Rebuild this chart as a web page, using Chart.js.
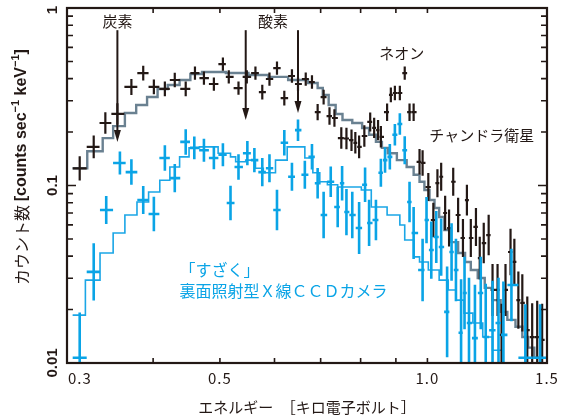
<!DOCTYPE html>
<html><head><meta charset="utf-8">
<script src="https://cdn.jsdelivr.net/npm/chart.js@4/dist/chart.umd.min.js"></script>
<style>html,body{margin:0;padding:0;background:#fff}canvas{display:block}</style>
</head><body>
<canvas id="c" width="564" height="418"></canvas>
<script>
// ---------- DATA ----------
// Chandra spectrum: energy [keV], rate [counts/s/keV], 1-sigma multiplicative error
const chandraE = [0.313,0.328,0.341,0.355,0.372,0.387,0.401,0.416,0.430,0.446,
  0.460,0.474,0.490,0.505,0.515,0.532,0.547,0.563,0.576,0.590,
  0.605,0.620,0.636,0.649,0.666,0.680,0.693,0.707,0.721,0.733,
  0.750,0.763,0.776,0.786,0.796,0.810,0.826,0.837,0.848,0.856,
  0.874,0.885,0.897,0.912,0.927,0.942,0.955,0.974,0.984,1.003,
  1.020,1.034,1.047,1.061,1.075,1.090,1.108,1.126,1.141,1.156,
  1.176,1.191,1.207,1.227,1.243,1.264,1.281,1.298,1.320,1.337,
  1.355,1.373,1.396,1.419,1.443,1.467];
const chandraRate = [0.125,0.165,0.225,0.253,0.359,0.430,0.359,0.350,0.393,0.350,
  0.430,0.403,0.373,0.483,0.409,0.354,0.409,0.430,0.336,0.398,
  0.459,0.311,0.414,0.373,0.398,0.383,0.259,0.315,0.246,0.240,
  0.185,0.184,0.180,0.174,0.165,0.190,0.228,0.211,0.205,0.188,
  0.259,0.324,0.332,0.332,0.430,0.259,0.259,0.136,0.134,0.0981,
  0.0639,0.103,0.112,0.0700,0.0576,0.105,0.0682,0.0506,0.0828,0.0506,
  0.0584,0.0390,0.0474,0.0526,0.0258,0.0258,0.0144,0.0258,0.0422,0.0371,
  0.0226,0.0218,0.0153,0.0140,0.0140,0.0135];
const chandraErr = [1.17,1.16,1.15,1.15,1.11,1.10,1.10,1.10,1.10,1.10,
  1.09,1.09,1.09,1.09,1.09,1.09,1.09,1.09,1.10,1.09,
  1.09,1.10,1.09,1.09,1.09,1.09,1.11,1.10,1.12,1.12,
  1.15,1.15,1.15,1.15,1.16,1.15,1.13,1.14,1.14,1.15,
  1.12,1.10,1.10,1.10,1.09,1.12,1.12,1.18,1.18,1.20,
  1.25,1.20,1.20,1.25,1.27,1.20,1.25,1.28,1.22,1.28,
  1.28,1.32,1.30,1.30,1.40,1.40,1.50,1.40,1.35,1.35,
  1.45,1.45,1.55,1.55,1.60,1.60];

// Suzaku XIS (back-illuminated CCD) spectrum
const suzakuE = [0.313,0.328,0.342,0.358,0.372,0.387,0.401,0.416,0.430,0.446,
  0.459,0.474,0.490,0.505,0.518,0.532,0.548,0.561,0.576,0.590,
  0.605,0.620,0.636,0.649,0.664,0.680,0.693,0.707,0.724,0.741,
  0.752,0.763,0.778,0.796,0.812,0.823,0.842,0.856,0.868,0.882,
  0.897,0.912,0.927,0.942,0.955,0.984,0.997,1.013,1.030,1.047,
  1.068,1.084,1.100,1.119,1.132,1.149,1.172,1.195,1.215,1.243,
  1.268,1.289,1.324,1.387,1.457];
const suzakuRate = [0.0107,0.0326,0.0728,0.134,0.119,0.0828,0.0691,0.143,0.110,0.176,
  0.163,0.158,0.143,0.149,0.0797,0.127,0.152,0.139,0.119,0.125,
  0.0728,0.174,0.112,0.205,0.115,0.145,0.103,0.0682,0.105,0.0756,
  0.103,0.0709,0.0682,0.0576,0.101,0.0615,0.0639,0.118,0.139,0.145,
  0.193,0.222,0.158,0.0807,0.0540,0.0334,0.0639,0.0433,0.0513,0.0450,
  0.0194,0.0422,0.0334,0.0148,0.0248,0.0168,0.0138,0.0248,0.0140,0.0153,
  0.0168,0.0144,0.0275,0.0107,0.0107];
const suzakuErr = [1.8,1.45,1.2,1.16,1.18,1.2,1.25,1.18,1.2,1.18,
  1.16,1.16,1.16,1.16,1.25,1.18,1.17,1.17,1.2,1.2,
  1.3,1.18,1.2,1.15,1.2,1.18,1.22,1.35,1.22,1.3,
  1.25,1.35,1.35,1.4,1.25,1.35,1.3,1.2,1.18,1.18,
  1.15,1.15,1.2,1.3,1.4,1.5,1.35,1.45,1.4,1.45,
  1.8,1.45,1.5,2.0,1.6,1.8,2.0,1.6,2.0,1.9,
  1.8,2.0,1.6,2.0,2.0];

// Model (folded) step curves: bin left edges (+ final right edge) and rates
const chandraModelEdges = [0.3057,0.321,0.338,0.350,0.364,0.378,0.392,0.406,0.420,0.437,
  0.453,0.471,0.510,0.550,0.588,0.628,0.671,0.693,0.705,0.719,
  0.736,0.753,0.778,0.804,0.823,0.842,0.859,0.876,0.903,0.933,
  0.955,0.974,0.990,1.007,1.024,1.040,1.058,1.082,1.108,1.134,
  1.156,1.183,1.211,1.243,1.277,1.306,1.342,1.373,1.400,1.429,
  1.457,1.491];
const chandraModelRate = [0.125,0.156,0.185,0.216,0.256,0.284,0.315,0.350,0.368,0.393,
  0.425,0.436,0.430,0.419,0.409,0.393,0.378,0.354,0.324,0.284,
  0.253,0.234,0.225,0.211,0.193,0.176,0.163,0.152,0.139,0.127,
  0.115,0.105,0.0943,0.0828,0.0747,0.0665,0.0561,0.0480,0.0417,0.0371,
  0.0334,0.0301,0.0265,0.0226,0.0194,0.0175,0.0160,0.0140,0.0122,0.0107,
  0.0098];
const suzakuModelEdges = [0.3057,0.319,0.335,0.350,0.364,0.379,0.394,0.409,0.423,0.437,
  0.451,0.467,0.497,0.518,0.527,0.545,0.563,0.578,0.602,0.626,
  0.664,0.682,0.698,0.716,0.741,0.802,0.829,0.874,0.912,0.927,
  0.955,0.974,1.003,1.040,1.072,1.100,1.130,1.164,1.203,1.243,
  1.285,1.491];
const suzakuModelRate = [0.0186,0.0293,0.0417,0.0540,0.0682,0.0807,0.0919,0.107,0.127,0.145,
  0.163,0.165,0.152,0.145,0.136,0.139,0.125,0.118,0.139,0.165,
  0.143,0.118,0.105,0.101,0.0981,0.0943,0.0756,0.0682,0.0599,0.0493,
  0.0396,0.0371,0.0334,0.0293,0.0258,0.0226,0.0191,0.0168,0.0140,0.0118,
  0.0098];

// Tick labels
const xTickValues = [0.3, 0.5, 1.0, 1.5];
const xTickLabels = ['0.3', '0.5', '1.0', '1.5'];
const xMinorTicks = [0.4, 0.5, 0.6, 0.7, 0.8, 0.9, 1.0];
const yTickValues = [0.01, 0.1, 1];
const yTickLabels = ['0.01', '0.1', '1'];

// Annotations: [text, energy, rate]
const lineLabels = [['炭素', 0.355, 0.84], ['酸素', 0.597, 0.84]];
const arrows = [[0.355, 0.75, 0.176], [0.545, 0.75, 0.234], [0.649, 0.75, 0.256]];

// ---------- build ----------
const INK = '#231815', CYAN = '#0aa4e6';
const toPts = (xs, ys) => xs.map((x, i) => ({x, y: ys[i]}));
const stepPts = (edges, rates) => edges.map((e, i) => ({x: e, y: rates[Math.min(i, rates.length - 1)]}));

const errPlugin = {
  id: 'errbars',
  afterDatasetsDraw(chart) {
    const {ctx, chartArea: a, scales: {x, y}} = chart;
    ctx.save();
    ctx.beginPath(); ctx.rect(a.left, a.top, a.right - a.left, a.bottom - a.top); ctx.clip();
    chart.data.datasets.forEach((ds, di) => {
      if (!ds.errFactor) return;
      const meta = chart.getDatasetMeta(di);
      const E = ds.data.map(p => p.x);
      ctx.strokeStyle = ds.barColor; ctx.lineWidth = ds.barWidth; ctx.lineCap = 'butt';
      ds.data.forEach((p, i) => {
        const le = Math.log(E[i]);
        const dl = i > 0 ? (le - Math.log(E[i - 1])) / 2 : (Math.log(E[i + 1]) - le) / 2;
        const dr = i < E.length - 1 ? (Math.log(E[i + 1]) - le) / 2 : dl;
        const lo = Math.exp(le - dl), hi = Math.exp(le + dr);
        const el = meta.data[i];
        ctx.beginPath();
        ctx.moveTo(x.getPixelForValue(lo), el.y); ctx.lineTo(x.getPixelForValue(hi), el.y);
        ctx.moveTo(el.x, y.getPixelForValue(p.y * ds.errFactor[i]));
        ctx.lineTo(el.x, y.getPixelForValue(p.y / ds.errFactor[i]));
        ctx.stroke();
      });
    });
    ctx.restore();
  }
};

const JP = '"Noto Sans CJK JP"';
const decorPlugin = {
  id: 'decor',
  afterDraw(chart) {
    const {ctx, chartArea: a, scales: {x, y}} = chart;
    ctx.save();
    ctx.strokeStyle = INK; ctx.fillStyle = INK;
    // arrows
    ctx.lineWidth = 2;
    arrows.forEach(([e, v0, v1]) => {
      const px = x.getPixelForValue(e), y0 = y.getPixelForValue(v0), y1 = y.getPixelForValue(v1);
      ctx.beginPath(); ctx.moveTo(px, y0); ctx.lineTo(px, y1 - 10); ctx.stroke();
      ctx.beginPath(); ctx.moveTo(px - 3.5, y1 - 12); ctx.lineTo(px + 3.5, y1 - 12); ctx.lineTo(px, y1); ctx.closePath(); ctx.fill();
    });
    // frame
    ctx.lineWidth = 2.2;
    ctx.strokeRect(a.left, a.top, a.right - a.left, a.bottom - a.top);
    // y ticks
    ctx.lineWidth = 1.6;
    const yTicks = [];
    [0.01, 0.1].forEach(d => { for (let k = 1; k <= 9; k++) yTicks.push([k * d, k === 1]); });
    yTicks.push([1, true]);
    yTicks.forEach(([v, major]) => {
      const py = y.getPixelForValue(v), len = major ? 9 : 6;
      ctx.beginPath();
      ctx.moveTo(a.left, py); ctx.lineTo(a.left + len, py);
      ctx.moveTo(a.right, py); ctx.lineTo(a.right - len, py);
      ctx.stroke();
    });
    xMinorTicks.forEach(v => {
      const px = x.getPixelForValue(v);
      ctx.beginPath();
      ctx.moveTo(px, a.bottom); ctx.lineTo(px, a.bottom - 5);
      ctx.moveTo(px, a.top); ctx.lineTo(px, a.top + 5);
      ctx.stroke();
    });
    // x tick labels
    ctx.font = '15px ' + JP; ctx.textBaseline = 'middle';
    ctx.letterSpacing = '1px';
    xTickValues.forEach((v, i) => {
      let px = x.getPixelForValue(v);
      const w = ctx.measureText(xTickLabels[i]).width;
      px = Math.max(a.left + w / 2 + 1, Math.min(a.right, px));
      ctx.textAlign = 'center';
      ctx.fillText(xTickLabels[i], px, a.bottom + 15);
    });
    ctx.letterSpacing = '0px';
    // y tick labels (rotated)
    ctx.font = 'bold 15px "Liberation Sans"';
    yTickValues.forEach((v, i) => {
      const py = Math.max(a.top + 2, y.getPixelForValue(v));
      ctx.save(); ctx.translate(53, py); ctx.rotate(-Math.PI / 2);
      ctx.textAlign = 'center'; ctx.textBaseline = 'middle';
      ctx.fillText(yTickLabels[i], 0, 0); ctx.restore();
    });
    // y title
    const segs = [
      ['カウント数 ', '16px ' + JP, 0],
      ['[counts sec', 'bold 16px "Liberation Sans"', 0],
      ['−1', 'bold 11px "Liberation Sans"', -6],
      [' keV', 'bold 16px "Liberation Sans"', 0],
      ['−1', 'bold 11px "Liberation Sans"', -6],
      [']', 'bold 16px "Liberation Sans"', 0]
    ];
    let tot = 0;
    segs.forEach(s => { ctx.font = s[1]; tot += ctx.measureText(s[0]).width; });
    ctx.save(); ctx.translate(22, 167); ctx.rotate(-Math.PI / 2);
    ctx.textAlign = 'left'; ctx.textBaseline = 'middle';
    let cx = -tot / 2;
    segs.forEach(s => { ctx.font = s[1]; ctx.fillText(s[0], cx, s[2]); cx += ctx.measureText(s[0]).width; });
    ctx.restore();
    // x title
    ctx.font = '15px ' + JP; ctx.textAlign = 'center'; ctx.textBaseline = 'middle';
    ctx.fillText('エネルギー　［キロ電子ボルト］', (a.left + a.right) / 2, 407);
    // element labels
    lineLabels.forEach(([t, e, v]) => ctx.fillText(t, x.getPixelForValue(e), y.getPixelForValue(v)));
    ctx.fillText('ネオン', x.getPixelForValue(0.918), y.getPixelForValue(0.558));
    ctx.fillText('チャンドラ衛星', x.getPixelForValue(1.199), y.getPixelForValue(0.193));
    // Suzaku labels
    ctx.fillStyle = CYAN; ctx.font = '16px ' + JP; ctx.textAlign = 'left';
    ctx.fillText('「すざく」', x.getPixelForValue(0.437), y.getPixelForValue(0.0334));
    ctx.fillText('裏面照射型Ｘ線ＣＣＤカメラ', x.getPixelForValue(0.437), y.getPixelForValue(0.0255));
    ctx.restore();
  }
};

new Chart(document.getElementById('c'), {
  type: 'scatter',
  data: {
    datasets: [
      {label: 'Chandra model', type: 'line', data: stepPts(chandraModelEdges, chandraModelRate),
        stepped: 'before', borderColor: '#6a8191', borderWidth: 2.4, pointRadius: 0, fill: false},
      {label: 'Suzaku model', type: 'line', data: stepPts(suzakuModelEdges, suzakuModelRate),
        stepped: 'before', borderColor: '#1ba6e6', borderWidth: 1.6, pointRadius: 0, fill: false},
      {label: 'Chandra', data: toPts(chandraE, chandraRate), errFactor: chandraErr,
        barColor: INK, barWidth: 2.2, pointRadius: 0},
      {label: 'Suzaku', data: toPts(suzakuE, suzakuRate), errFactor: suzakuErr,
        barColor: CYAN, barWidth: 2.6, pointRadius: 0}
    ]
  },
  options: {
    responsive: false, animation: false, devicePixelRatio: 1,
    layout: {padding: {left: 67, top: 8, right: 17, bottom: 55}},
    plugins: {legend: {display: false}, tooltip: {enabled: false}},
    scales: {
      x: {type: 'logarithmic', min: 0.3057, max: 1.491, display: false},
      y: {type: 'logarithmic', min: 0.01, max: 1, display: false}
    }
  },
  plugins: [errPlugin, decorPlugin]
});
</script>
</body></html>
